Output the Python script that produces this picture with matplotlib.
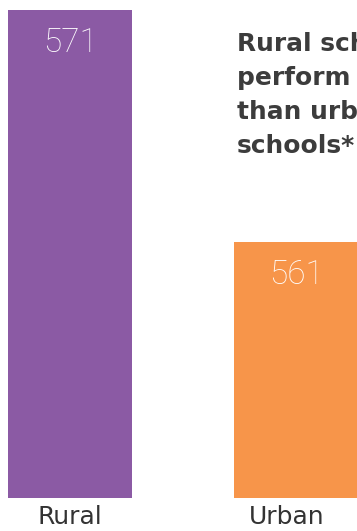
import matplotlib
matplotlib.use("Agg")
import matplotlib.pyplot as plt
import matplotlib.transforms as mtransforms

categories = ["Rural", "Urban"]
scores = [571, 561]
bar_colors = ["#8B5AA4", "#F7954A"]
headline = ["Rural schools", "perform better", "than urban", "schools*"]

W, H, DPI = 357, 531, 100
fig = plt.figure(figsize=(W / DPI, H / DPI), dpi=DPI)
fig.patch.set_facecolor("white")

# axes spans full width; bottom edge sits on the bar baseline
ax = fig.add_axes([0, 33.3 / H, 1, 497.7 / H])
ax.set_facecolor("none")
x = list(range(len(categories)))
bars = ax.bar(x, scores, width=0.549, color=bar_colors, bottom=0)
ax.set_ylim(550, 571.43)
ax.set_xlim(-0.310, 1.27)
for s in ax.spines.values():
    s.set_visible(False)
ax.tick_params(left=False, bottom=False, labelleft=False)
ax.set_xticks(x)
ax.set_xticklabels(categories, fontsize=18, color="#333333",
                   family="DejaVu Sans")
ax.tick_params(axis="x", pad=2)
# nudge the second category label slightly left
shift = mtransforms.ScaledTranslation(-9 / DPI, 0, fig.dpi_scale_trans)
lbls = ax.get_xticklabels()
lbls[1].set_transform(lbls[1].get_transform() + shift)

for xi, v in zip(x, scores):
    ax.annotate(f"{v}", xy=(xi, v), xytext=(0, -33 * 72 / DPI),
                textcoords="offset points", ha="center", va="center",
                color="white", fontsize=24, family="Roboto", fontweight="light")

# headline lines, left aligned on shared baseline grid
top_baseline = 51
step = 34
for i, line in enumerate(headline):
    fig.text(237 / W, 1 - (top_baseline + i * step) / H, line,
             ha="left", va="baseline", fontsize=17.9, fontweight="bold",
             color="#3C3C3C", family="DejaVu Sans")

fig.savefig("out.png", dpi=DPI)
